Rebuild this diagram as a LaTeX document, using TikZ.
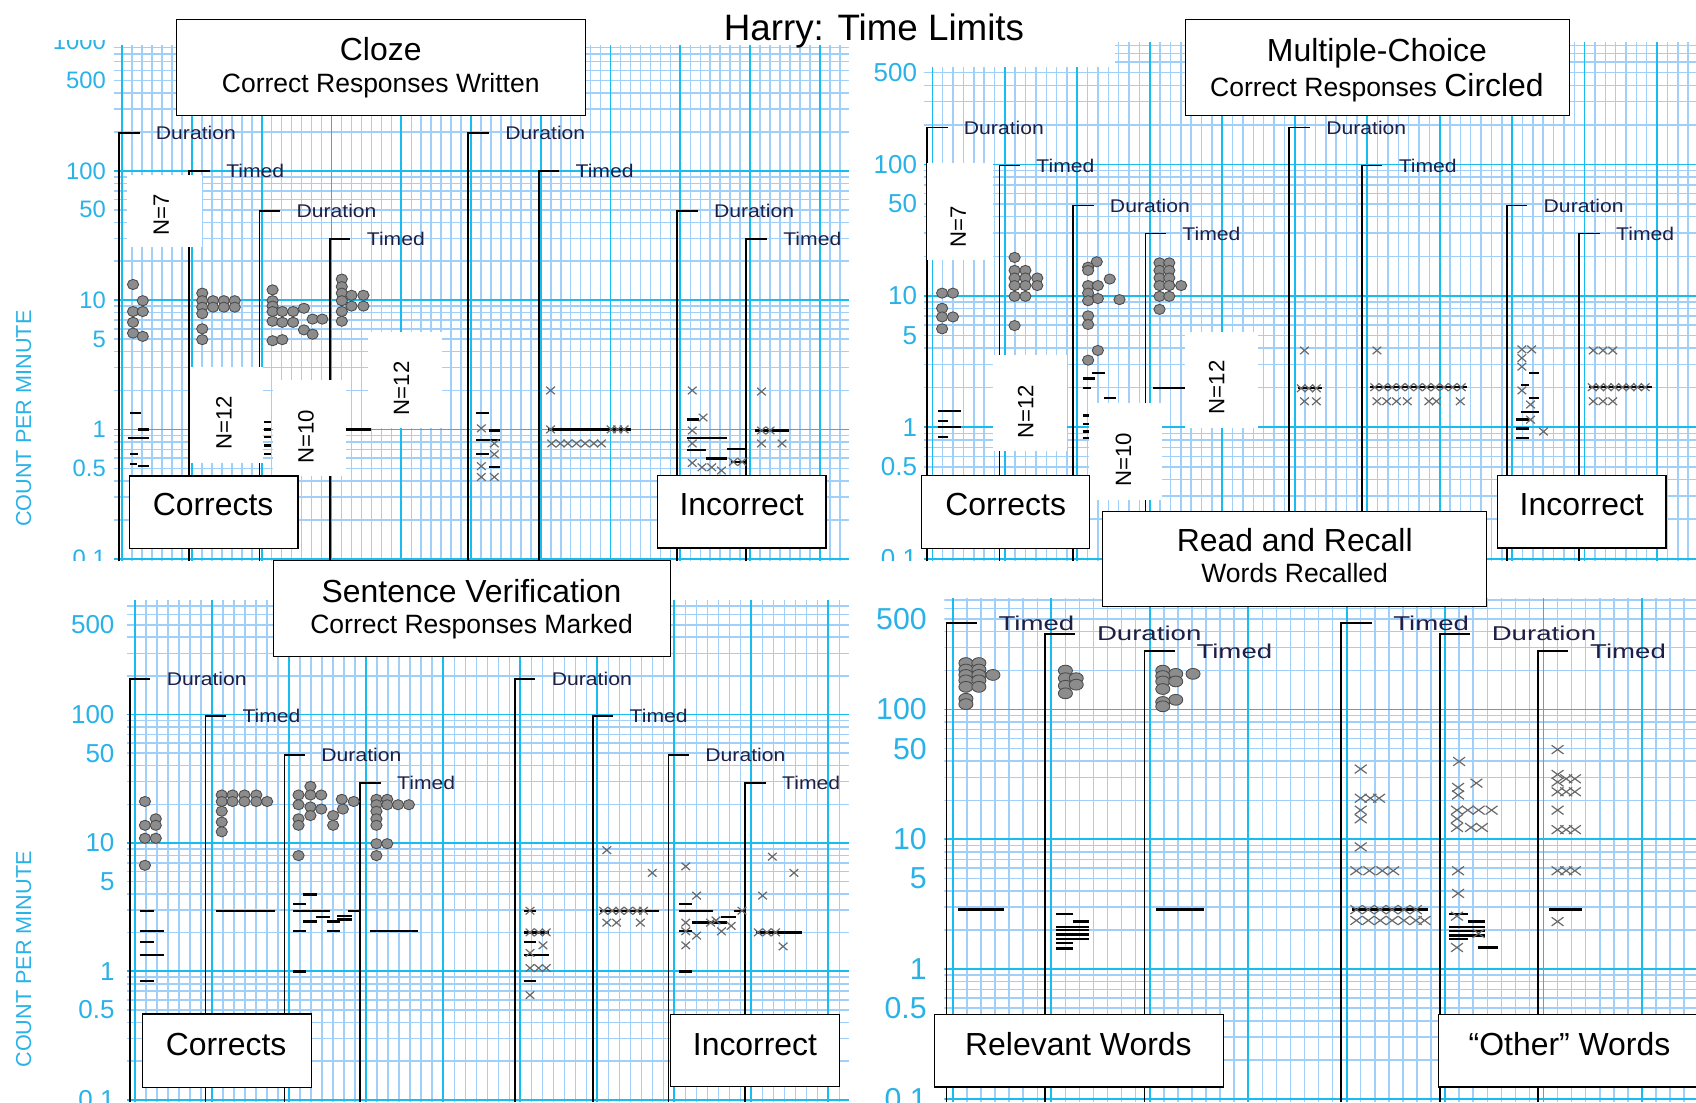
\documentclass[tikz,border=0pt]{standalone}
\usepackage{fontspec}
\setmainfont{Liberation Sans}
\usepackage{graphicx}

\definecolor{gridlight}{RGB}{160,207,250}
\definecolor{griddark}{RGB}{25,188,238}
\definecolor{axisblue}{RGB}{40,178,232}
\definecolor{phasenavy}{RGB}{30,30,70}
\definecolor{dotgray}{RGB}{140,140,140}
\definecolor{dotedge}{RGB}{75,75,75}
\definecolor{crossgray}{RGB}{105,105,105}

% semi-log grid: left, right, top, bottom, y of 1, decade, week
\newcommand\chartgrid[7]{%
  \begin{scope}
    \clip (#1-8,#3) rectangle (#2,#4);
    \pgfmathsetmacro\chday{#7/7}
    \pgfmathtruncatemacro\chdays{(#2-#1)/\chday}
    \foreach \ci in {0,...,\chdays}
      \draw[gridminor] ({#1+\ci*\chday},#3) -- ({#1+\ci*\chday},#4);
    \foreach \ex in {-2,...,3}{
      \foreach \kk in {2,...,9}
        \draw[gridminor] (#1-8,{#5-#6*(\ex+ln(\kk)/ln(10))}) -- (#2,{#5-#6*(\ex+ln(\kk)/ln(10))});
      \draw[gridmajor] (#1-8,{#5-#6*\ex}) -- (#2,{#5-#6*\ex});
    }
    \foreach \ci in {0,7,...,\chdays}
      \draw[gridmajor] ({#1+\ci*\chday},#3) -- ({#1+\ci*\chday},#4);
  \end{scope}}

% count labels: name, right edge, y of 1, decade, size, list
\def\fullscale{3/1000,2.699/500,2/100,1.699/50,1/10,0.699/5,0/1,-0.301/0.5,-1/0.1}
\def\shortscale{2.699/500,2/100,1.699/50,1/10,0.699/5,0/1,-0.301/0.5,-1/0.1}
\newcommand\chartaxis[6]{%
  \foreach \val/\lab [count=\cnt] in #6
    \node[axisnum, font=\fontsize{#5}{#5}\selectfont] (#1\cnt) at (#2,{#3-#4*\val}) {\lab};}

% phase change line: name, x, top, bottom, label
\newcommand\phaseline[5]{%
  \draw[phaseln] (#2,#4) -- (#2,#3) -- (#2+19,#3);
  \node[phasetxt] (#1) at (#2+34,#3) {\scalebox{1.15}[1]{#5}};}
\newcommand\wideline[5]{%
  \draw[phaseln] (#2,#4) -- (#2,#3) -- (#2+28,#3);
  \node[phasewide] (#1) at (#2+48,#3) {\scalebox{1.38}[1]{#5}};}

% data marks
\newcommand\plotdots[3]{\foreach \x/\y in {#3} \draw[datadot] (\x,\y) ellipse [x radius=#1pt, y radius=#2pt];}
\newcommand\plotx[3]{\foreach \x/\y in {#3} \draw[crossmk] (\x-#1,\y-#2) -- (\x+#1,\y+#2) (\x-#1,\y+#2) -- (\x+#1,\y-#2);}
\newcommand\plotdash[1]{\foreach \xa/\xb/\y in {#1} \draw[datadash] (\xa,\y) -- (\xb,\y);}

\begin{document}
\begin{tikzpicture}[x=1pt, y=-1pt,
  gridminor/.style={draw=gridlight, line width=1.4pt},
  gridmajor/.style={draw=griddark, line width=1.6pt},
  axisnum/.style={anchor=east, inner sep=0pt, text=axisblue},
  axistitle/.style={rotate=90, inner sep=0pt, text=axisblue, font=\fontsize{20}{20}\selectfont},
  phaseln/.style={draw=black, line width=1.6pt},
  phasetxt/.style={anchor=west, inner sep=0pt, text=phasenavy, font=\fontsize{17}{17}\selectfont},
  phasewide/.style={anchor=west, inner sep=0pt, text=phasenavy, font=\fontsize{18.5}{18.5}\selectfont},
  datadot/.style={fill=dotgray, draw=dotedge, line width=0.8pt},
  crossmk/.style={draw=crossgray, line width=1.1pt},
  datadash/.style={draw=black, line width=2.2pt},
  nbox/.style={fill=white, inner sep=0pt},
  ntext/.style={rotate=90, inner sep=0pt, font=\fontsize{20.5}{20.5}\selectfont},
  lblbox/.style={draw=black, line width=1.2pt, fill=white, inner sep=0pt},
  lbltxt/.style={anchor=base, inner sep=0pt, font=\fontsize{29.5}{29.5}\selectfont},
  subtxt/.style={anchor=base, inner sep=0pt, font=\fontsize{24.5}{24.5}\selectfont}]
\useasboundingbox (0,0) rectangle (1568,1019);
\fill[white] (0,0) rectangle (1568,1019);

% grids
\chartgrid{113}{785}{42}{519}{397}{119.5}{64.5}
\chartgrid{862}{1568}{39}{519}{395}{121.5}{67}
\chartgrid{125}{785}{555}{1019}{898}{118.7}{71.2}
\chartgrid{881}{1568}{552}{1019}{896}{120}{91}
\fill[white] (786,0) rectangle (1031,62);

% count scales
\chartaxis{tla}{98}{397}{119.5}{22}{\fullscale}
\chartaxis{tra}{848}{395}{121.5}{24}{\shortscale}
\chartaxis{bla}{106}{898}{118.7}{24}{\shortscale}
\chartaxis{bra}{857}{896}{120}{28}{\shortscale}
\fill[white] (0,0) rectangle (1568,37);
\fill[white] (0,519) rectangle (1568,553);

% Cloze
\phaseline{tlp1}{110}{123}{519}{Duration}
\phaseline{tlp2}{175}{158}{519}{Timed}
\phaseline{tlp3}{240}{195}{519}{Duration}
\phaseline{tlp4}{305}{221}{519}{Timed}
\phaseline{tlp5}{433}{123}{519}{Duration}
\phaseline{tlp6}{498}{158}{519}{Timed}
\phaseline{tlp7}{626}{195}{519}{Duration}
\phaseline{tlp8}{690}{221}{519}{Timed}
\plotdots{5.2}{4.7}{123/263,132/278,123/288,132/288,123/298,123/308,132/311,
  187/271,187/278,187/284,187/290,197/278,197/284,207/278,207/284,217/278,217/284,187/304,187/314,
  252/268,252/278,252/283,252/288,252/297,261/288,261/298,271/288,271/298,281/285,281/305,289/295,298/295,289/309,252/315,261/314,
  316/258,316/265,316/271,316/278,316/288,316/297,325/273,325/283,336/273,336/283}
\plotdash{120/130/382,128/138/397,118/130/405,128/138/405,120/128/420,120/127/429,128/138/431,
  244/251/390,244/251/397,244/251/404,244/251/412,244/251/420,318/343/397,
  440/452/382,452/462/398,440/462/407,440/452/420,452/462/432,507/583/397,
  635/646/388,635/672/405,672/689/415,635/653/416,653/672/424,676/689/427,698/729/398}
\plotx{4}{3.5}{445/396,457/410,457/420,445/431,445/441,457/441,
  509/361,509/397,510/410,518/410,525/410,533/410,541/410,549/410,556/410,565/397,571/397,577/397,
  640/361,650/386,640/398,640/410,640/428,649/432,658/432,667/435,678/427,686/427,
  704/362,704/398,712/398,704/410,723/410}

% Multiple-Choice
\phaseline{trp1}{857}{118}{519}{Duration}
\phaseline{trp2}{924}{153}{519}{Timed}
\phaseline{trp3}{992}{190}{519}{Duration}
\phaseline{trp4}{1059}{216}{519}{Timed}
\phaseline{trp5}{1192}{118}{519}{Duration}
\phaseline{trp6}{1259}{153}{519}{Timed}
\phaseline{trp7}{1393}{190}{519}{Duration}
\phaseline{trp8}{1460}{216}{519}{Timed}
\plotdots{5.2}{4.7}{871/271,881/271,871/285,871/293,881/293,871/304,
  938/238,938/250,948/250,938/257,948/257,959/257,938/264,948/264,959/264,938/274,948/274,938/301,
  1014/242,1006/247,1006/250,1006/264,1015/264,1026/258,1006/271,1015/276,1006/278,1035/277,1006/292,1006/300,1015/324,1006/333,
  1072/243,1081/243,1072/250,1081/250,1072/257,1081/257,1072/264,1081/264,1092/264,1072/274,1081/274,1072/286}
\plotdash{867/888/380,867/876/389,867/888/395,867/876/404,
  1001/1012/350,1010/1022/345,1001/1009/359,1021/1032/368,1001/1009/384,1001/1009/392,1001/1009/399,1001/1009/405,
  1066/1096/359,1200/1222/359,1267/1356/358,
  1402/1414/405,1402/1414/396,1402/1414/388,1406/1423/381,1414/1423/368,1406/1414/356,1414/1423/345,1469/1527/358}
\plotx{4}{3.5}{1206/324,1203/359,1210/359,1217/359,1206/371,1217/371,
  1273/324,1271/358,1279/358,1287/358,1295/358,1303/358,1311/358,1319/358,1327/358,1335/358,1343/358,1351/358,
  1273/371,1282/371,1291/371,1301/371,1321/371,1328/371,1350/371,
  1407/323,1416/323,1407/331,1407/339,1407/361,1415/374,1415/388,1427/399,
  1473/324,1482/324,1491/324,1472/358,1479/358,1486/358,1493/358,1500/358,1507/358,1514/358,1521/358,
  1473/371,1482/371,1491/371}

% Sentence Verification
\phaseline{blp1}{120}{628}{1019}{Duration}
\phaseline{blp2}{190}{662}{1019}{Timed}
\phaseline{blp3}{263}{698}{1019}{Duration}
\phaseline{blp4}{333}{724}{1019}{Timed}
\phaseline{blp5}{476}{628}{1019}{Duration}
\phaseline{blp6}{548}{662}{1019}{Timed}
\phaseline{blp7}{618}{698}{1019}{Duration}
\phaseline{blp8}{689}{724}{1019}{Timed}
\plotdots{5.2}{4.7}{134/741,134/763,144/757,144/763,134/775,144/775,134/800,
  205/735,215/735,226/735,237/735,205/741,215/741,226/741,237/741,247/741,205/750,205/760,205/769,
  287/727,276/735,287/735,297/735,316/739,327/741,276/744,287/746,297/748,317/748,308/754,287/754,276/757,276/763,308/763,276/791,
  348/739,358/739,348/744,358/744,368/744,378/744,348/750,348/757,348/763,348/780,358/780,348/791}
\plotdash{129/142/842,129/152/861,129/142/871,129/152/883,129/142/907,200/254/842,
  280/293/827,271/283/836,271/305/842,292/305/848,280/293/852,312/325/847,312/325/850,302/314/852,271/283/861,302/314/861,322/334/842,271/283/898,
  342/386/861,
  484/496/842,484/508/862,484/496/871,484/508/883,484/496/907,555/609/842,
  628/640/836,628/659/842,640/659/853,659/672/853,667/680/848,679/689/842,628/640/861,628/640/898,699/741/862}
\plotx{4}{3.5}{490/842,490/862,498/862,505/862,502/874,490/881,490/895,498/895,505/895,490/920,
  561/786,558/842,566/842,573/842,581/842,589/842,595/842,561/853,570/853,592/853,603/807,
  634/801,644/828,634/853,634/861,634/874,644/865,657/853,667/861,676/856,662/851,686/842,
  714/792,734/807,705/828,701/862,709/862,717/862,724/875}

% Read and Recall
\wideline{brp1}{875}{576}{1019}{Timed}
\wideline{brp2}{966}{586}{1019}{Duration}
\wideline{brp3}{1058}{602}{1019}{Timed}
\wideline{brp4}{1240}{576}{1019}{Timed}
\wideline{brp5}{1331}{586}{1019}{Duration}
\wideline{brp6}{1422}{602}{1019}{Timed}
\plotdots{6.5}{5}{893/613,905/613,893/619,905/619,893/624,905/624,918/624,893/629,905/629,893/635,905/635,893/646,893/651,
  985/620,985/627,985/634,985/641,995/627,995/633,
  1075/620,1087/623,1103/623,1075/625,1075/630,1087/630,1075/637,1087/647,1075/649,1075/653}
\plotdash{886/928/841,976/992/845,992/1007/852,976/1007/857,976/1007/860,976/1007/864,976/1007/868,976/992/872,976/992/877,
  1069/1113/841,1250/1320/841,
  1340/1357/845,1357/1373/852,1340/1373/857,1340/1373/861,1340/1373/865,1340/1357/868,1366/1385/876,1432/1463/841}
\plotx{5.5}{4}{1258/711,1258/738,1267/738,1275/738,1258/749,1258/757,1258/783,1254/805,1266/805,1278/805,1288/805,
  1254/841,1265/841,1276/841,1287/841,1298/841,1309/841,
  1254/851,1265/851,1276/851,1287/851,1298/851,1309/851,1317/851,
  1349/704,1348/728,1365/724,1348/735,1347/749,1357/749,1367/749,1379/749,1347/757,1347/765,1360/765,1370/765,1348/805,1348/826,1347/847,1347/876,1367/863,
  1440/693,1440/716,1448/720,1456/720,1440/723,1440/732,1448/732,1456/732,1440/749,1440/767,1448/767,1456/767,1440/805,1448/805,1456/805,1440/852}

% count boxes
\node[nbox, minimum width=70pt, minimum height=66pt] (tlN7) at (152,195) {};
\node[ntext] (tlN7t) at (149,199) {N=7};
\node[nbox, minimum width=67pt, minimum height=89pt] (tlN12a) at (209.5,383.5) {};
\node[ntext] (tlN12at) at (207,391) {N=12};
\node[nbox, minimum width=68pt, minimum height=89pt] (tlN10) at (286,395.5) {};
\node[ntext] (tlN10t) at (283,404) {N=10};
\node[nbox, minimum width=69pt, minimum height=89pt] (tlN12b) at (374.5,351.5) {};
\node[ntext] (tlN12bt) at (371,359) {N=12};
\node[nbox, minimum width=61pt, minimum height=89pt] (trN7) at (887.5,195.5) {};
\node[ntext] (trN7t) at (886,209.6) {N=7};
\node[nbox, minimum width=68pt, minimum height=89pt] (trN12a) at (952.3,372.9) {};
\node[ntext] (trN12at) at (948.3,380.6) {N=12};
\node[nbox, minimum width=67pt, minimum height=89pt] (trN10) at (1040.5,417.5) {};
\node[ntext] (trN10t) at (1038.6,425.3) {N=10};
\node[nbox, minimum width=68pt, minimum height=89pt] (trN12b) at (1129.5,351.3) {};
\node[ntext] (trN12bt) at (1124.9,358.1) {N=12};

% label boxes
\node[lblbox, minimum width=156pt, minimum height=67pt] (tlcor) at (197.5,473.5) {};
\node[lbltxt] (tlcort) at (197,476.5) {Corrects};
\node[lblbox, minimum width=156pt, minimum height=67pt] (tlinc) at (685.6,473.1) {};
\node[lbltxt] (tlinct) at (685.7,477) {Incorrect};
\node[lblbox, minimum width=155pt, minimum height=67pt] (trcor) at (929.7,473.4) {};
\node[lbltxt] (trcort) at (929.8,477) {Corrects};
\node[lblbox, minimum width=156pt, minimum height=67pt] (trinc) at (1462.2,473.1) {};
\node[lbltxt] (trinct) at (1462.4,477) {Incorrect};
\node[lblbox, minimum width=156pt, minimum height=68pt] (blcor) at (210,971.4) {};
\node[lbltxt] (blcort) at (209,975.5) {Corrects};
\node[lblbox, minimum width=156pt, minimum height=67pt] (blinc) at (698,971.2) {};
\node[lbltxt] (blinct) at (698,975.5) {Incorrect};
\node[lblbox, minimum width=267pt, minimum height=67pt] (brrel) at (997.5,971.5) {};
\node[lbltxt] (brrelt) at (997,975.5) {Relevant Words};
\node[lblbox, minimum width=245pt, minimum height=67pt] (broth) at (1452.5,971.5) {};
\node[lbltxt] (brotht) at (1451,975.5) {“Other” Words};

% title boxes
\node[lblbox, minimum width=378pt, minimum height=89pt] (cloze) at (352,62.5) {};
\node[lbltxt] (clozet) at (352,56) {Cloze};
\node[subtxt] (clozes) at (352,85.5) {Correct Responses Written};
\node[lblbox, minimum width=355pt, minimum height=89pt] (mc) at (1273.5,62.5) {};
\node[lbltxt] (mct) at (1273,56.5) {Multiple-Choice};
\node[subtxt] (mcs) at (1273,89.5) {Correct Responses {\fontsize{29.5}{29.5}\selectfont Circled}};
\node[lblbox, minimum width=367pt, minimum height=89pt] (sv) at (436.5,562.5) {};
\node[lbltxt] (svt) at (436,556.6) {Sentence Verification};
\node[subtxt] (svs) at (436,585.8) {Correct Responses Marked};
\node[lblbox, minimum width=355pt, minimum height=88pt] (rr) at (1196.5,517) {};
\node[lbltxt] (rrt) at (1197,509.6) {Read and Recall};
\node[subtxt] (rrs) at (1197,538.8) {Words Recalled};

\node[anchor=base, inner sep=0pt, font=\fontsize{34}{34}\selectfont] (title) at (808,37.2) {Harry: Time Limits};
\node[axistitle] (tly) at (22,387) {COUNT PER MINUTE};
\node[axistitle] (bly) at (22,887) {COUNT PER MINUTE};
\end{tikzpicture}
\end{document}
